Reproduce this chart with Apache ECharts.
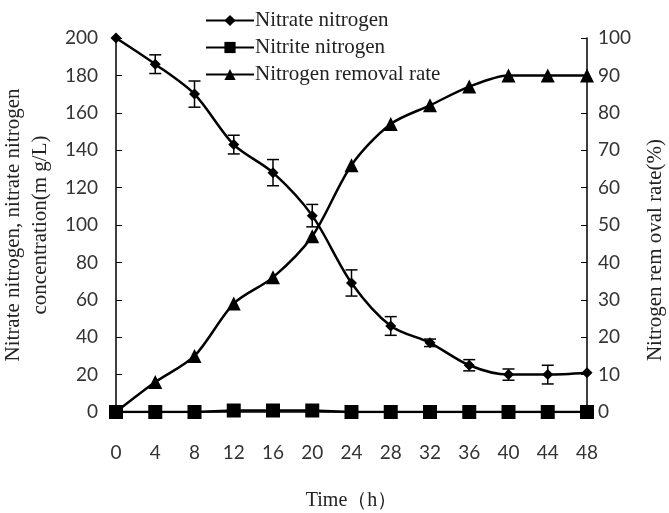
<!DOCTYPE html>
<html>
<head>
<meta charset="utf-8">
<script src="https://cdn.jsdelivr.net/npm/echarts@6/dist/echarts.min.js"></script>
<style>
html,body{margin:0;padding:0;background:#fff;}
#chart{width:669px;height:513px;}
</style>
</head>
<body>
<div id="chart"></div>
<script>
// time points (h)
var hours = [0, 4, 8, 12, 16, 20, 24, 28, 32, 36, 40, 44, 48];
// nitrate nitrogen, mg/L
var nitrate = [200, 186, 170, 143, 128, 105, 69, 46, 37, 25, 20, 20, 21];
var nitrateErr = [0, 5, 7, 5, 7, 6, 7, 5, 2, 3, 3, 5, 0];
// nitrite nitrogen, mg/L
var nitrite = [0, 0, 0, 0.8, 0.8, 0.8, 0, 0, 0, 0, 0, 0, 0];
// nitrogen removal rate, %
var removal = [0, 8, 15, 29, 36, 47, 66, 77, 82, 87, 90, 90, 90];

var serif = '"Liberation Serif", "DejaVu Serif", serif';
var sans = 'Lato, "Liberation Sans", sans-serif';

function pairs(ys) {
  return hours.map(function (h, i) { return [h, ys[i]]; });
}

var errData = hours.map(function (h, i) { return [h, nitrate[i], nitrateErr[i]]; });

var chart = echarts.init(document.getElementById('chart'));
var option = {
  backgroundColor: '#fff',
  animation: false,
  legend: {
    orient: 'vertical',
    left: 200,
    top: 5,
    itemGap: 6,
    itemWidth: 48,
    itemHeight: 14,
    textStyle: { fontFamily: serif, fontSize: 21, color: '#222', padding: [0, 0, 0, -4] },
    data: ['Nitrate nitrogen', 'Nitrite nitrogen', 'Nitrogen removal rate']
  },
  grid: { left: 116, right: 82, top: 38, bottom: 101, outerBoundsMode: 'none' },
  xAxis: {
    type: 'value', min: 0, max: 48, interval: 4,
    name: 'Time\uff08h\uff09', nameLocation: 'middle', nameGap: 79,
    nameTextStyle: { fontFamily: serif, fontSize: 20, color: '#222' },
    axisLine: { lineStyle: { color: '#000', width: 1.5 } },
    axisTick: { show: false },
    splitLine: { show: false },
    axisLabel: { margin: 31, fontFamily: sans, fontSize: 19, color: '#333' }
  },
  yAxis: [{
    type: 'value', min: 0, max: 200, interval: 20,
    name: 'Nitrate nitrogen, nitrate nitrogen\nconcentration(m g/L)',
    nameLocation: 'middle', nameGap: 52, nameRotate: 90,
    nameTextStyle: { fontFamily: serif, fontSize: 21, color: '#222', lineHeight: 27 },
    axisLine: { show: true, lineStyle: { color: '#000', width: 1.5 } },
    axisTick: { show: true, inside: true, length: 6, lineStyle: { color: '#000' } },
    splitLine: { show: false },
    axisLabel: { margin: 18, fontFamily: sans, fontSize: 19, color: '#333' }
  }, {
    type: 'value', min: 0, max: 100, interval: 10,
    name: 'Nitrogen rem oval rate(%)',
    nameLocation: 'middle', nameGap: 58, nameRotate: 90,
    nameTextStyle: { fontFamily: serif, fontSize: 21, color: '#222', padding: [0, 50, 0, 0] },
    axisLine: { show: true, lineStyle: { color: '#000', width: 1.5 } },
    axisTick: { show: true, inside: true, length: 6, lineStyle: { color: '#000' } },
    splitLine: { show: false },
    axisLabel: { margin: 11, fontFamily: sans, fontSize: 19, color: '#333' }
  }],
  series: [{
    name: 'Nitrate nitrogen',
    type: 'line', smooth: 0.3,
    data: pairs(nitrate),
    symbol: 'diamond', symbolSize: 11,
    itemStyle: { color: '#000' },
    lineStyle: { color: '#000', width: 2.5 },
    z: 3
  }, {
    name: 'Nitrite nitrogen',
    type: 'line',
    data: pairs(nitrite),
    symbol: 'rect', symbolSize: 14,
    itemStyle: { color: '#000' },
    lineStyle: { color: '#000', width: 2.5 },
    z: 3
  }, {
    name: 'Nitrogen removal rate',
    type: 'line', smooth: 0.3,
    yAxisIndex: 1,
    data: pairs(removal),
    symbol: 'triangle', symbolSize: 14,
    itemStyle: { color: '#000' },
    lineStyle: { color: '#000', width: 2.5 },
    z: 3
  }, {
    name: 'err',
    type: 'custom',
    data: errData,
    z: 4,
    renderItem: function (params, api) {
      var x = api.value(0), y = api.value(1), e = api.value(2);
      if (!e) return null;
      var hi = api.coord([x, y + e]);
      var lo = api.coord([x, y - e]);
      var w = 6;
      var st = { stroke: '#000', lineWidth: 1.5 };
      return {
        type: 'group',
        children: [
          { type: 'line', shape: { x1: hi[0], y1: hi[1], x2: lo[0], y2: lo[1] }, style: st },
          { type: 'line', shape: { x1: hi[0] - w, y1: hi[1], x2: hi[0] + w, y2: hi[1] }, style: st },
          { type: 'line', shape: { x1: lo[0] - w, y1: lo[1], x2: lo[0] + w, y2: lo[1] }, style: st }
        ]
      };
    }
  }]
};
chart.setOption(option);
</script>
</body>
</html>
